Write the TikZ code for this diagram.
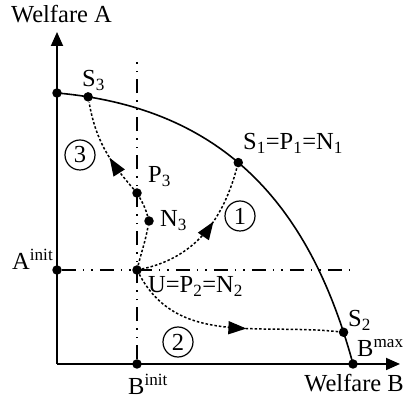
\documentclass[tikz,border=0pt]{standalone}
\usepackage{fontspec}
\setmainfont{Liberation Serif}
\usetikzlibrary{arrows.meta, positioning, decorations.markings}
\tikzset{
  dot/.style={circle, fill=black, inner sep=0pt, minimum size=9.5pt},
  axis/.style={line width=1.8pt, -{Triangle[length=14pt, width=12pt]}},
  guide/.style={line width=1.5pt, dash pattern=on 14pt off 7pt on 1.5pt off 7pt on 1.5pt off 7pt},
  frontier/.style={line width=1.6pt},
  route/.style={line width=1.5pt, dash pattern=on 2.5pt off 2pt},
  midarrow/.style={postaction={decorate}, decoration={markings,
      mark=at position #1 with {\arrow{Triangle[length=18pt, width=13pt]}}}},
  num/.style={circle, draw, line width=1.2pt, minimum size=30pt, inner sep=0pt},
  lbl/.style={anchor=base west, inner sep=0pt},
}

\begin{document}
\begin{tikzpicture}[x=1pt, y=1pt, font=\fontsize{24.5}{28}\selectfont]
    \useasboundingbox (0,0) rectangle (404,401);
    % axes
    \coordinate (O) at (57,37);
    \coordinate (ytip) at (57,369);
    \coordinate (xtip) at (400,37);
    \draw[axis] (O) -- (ytip);
    \draw[axis] (O) -- (xtip);
    % points on the axes
    \node[dot] (Amax) at (57,308) {};
    \node[dot] (Bmax) at (353,37) {};
    \node[dot] (Ainit) at (57,131) {};
    \node[dot] (Binit) at (137,37) {};
    \node[dot] (U) at (137,131) {};
    \node[dot] (P3) at (137,208) {};
    \node[dot] (N3) at (149,180) {};
    % frontier
    \draw[frontier] (Amax.center) .. controls (227,293) and (311,192) .. (Bmax.center)
      node[dot, pos=0.063] (S3) {}
      node[dot, pos=0.45] (S1) {}
      node[dot, pos=0.93] (S2) {};
    % initial levels
    \coordinate (hend) at (355,131);
    \coordinate (vend) at (137,339);
    \draw[guide] (Ainit) -- (hend);
    \draw[guide] (Binit) -- (vend);
    % routes
    \draw[route, midarrow=0.6] (U) to[out=12, in=-105] (S1);
    \draw[route, midarrow=0.58] (U) to[out=-62, in=174] (S2);
    \draw[route] (U) to[out=76, in=-100] (N3) to[out=106, in=-60] (P3);
    \draw[route, midarrow=0.4] (P3) to[out=131, in=-80] (S3);
    \node[num] (n1) at (240,185) {1};
    \node[num] (n2) at (178,59) {2};
    \node[num] (n3) at (80,246) {3};
    % labels
    \node[anchor=base, inner sep=0pt] (wA) at (61.5,378) {Welfare A};
    \node[anchor=base east, inner sep=0pt] (wB) at (404,9) {Welfare B};
    \node[lbl] (lS3) at (82,314) {S\textsubscript{3}};
    \node[lbl] (lS1) at (243,251) {S\textsubscript{1}=P\textsubscript{1}=N\textsubscript{1}};
    \node[lbl] (lP3) at (148,218) {P\textsubscript{3}};
    \node[lbl] (lN3) at (160,174) {N\textsubscript{3}};
    \node[lbl] (lU) at (148,108) {U=P\textsubscript{2}=N\textsubscript{2}};
    \node[lbl] (lAi) at (12,131) {A\textsuperscript{init}};
    \node[lbl] (lBi) at (128,6) {B\textsuperscript{init}};
    \node[lbl] (lS2) at (348,74) {S\textsubscript{2}};
    \node[lbl] (lBm) at (357,44) {B\textsuperscript{max}};
  \end{tikzpicture}
\end{document}
